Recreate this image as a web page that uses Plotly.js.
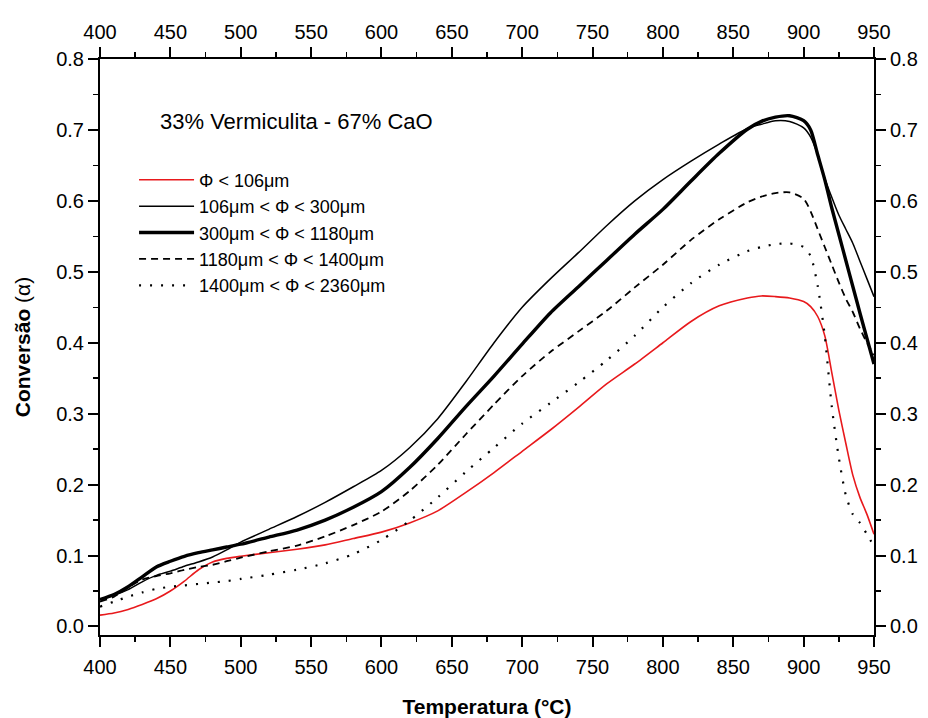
<!DOCTYPE html>
<html>
<head>
<meta charset="utf-8">
<script src="https://cdn.plot.ly/plotly-3.0.1.min.js"></script>
<style>html,body{margin:0;padding:0;background:#fff;}#chart{width:928px;height:718px;}</style>
</head>
<body>
<div id="chart"></div>
<script>
const temperature = [400,410,420,430,440,450,460,470,480,490,500,520,540,560,580,600,620,640,660,680,700,720,740,760,780,800,820,840,860,870,880,890,900,905,910,915,920,925,930,935,940,945,950];

const phiLt106 = [0.016,0.019,0.024,0.031,0.039,0.050,0.064,0.080,0.091,0.096,0.099,0.104,0.109,0.115,0.124,0.133,0.146,0.163,0.189,0.217,0.247,0.277,0.309,0.342,0.370,0.400,0.430,0.452,0.463,0.466,0.465,0.463,0.458,0.451,0.437,0.410,0.358,0.305,0.258,0.213,0.182,0.158,0.130];

const phi106to300 = [0.038,0.044,0.052,0.063,0.072,0.078,0.085,0.091,0.098,0.108,0.119,0.137,0.155,0.175,0.197,0.220,0.252,0.293,0.345,0.400,0.450,0.490,0.527,0.565,0.600,0.630,0.656,0.680,0.702,0.708,0.713,0.712,0.703,0.690,0.665,0.632,0.605,0.580,0.560,0.540,0.515,0.490,0.465];

const phi300to1180 = [0.038,0.045,0.056,0.070,0.084,0.092,0.099,0.104,0.108,0.112,0.116,0.126,0.136,0.150,0.168,0.190,0.224,0.265,0.310,0.353,0.398,0.442,0.479,0.516,0.553,0.588,0.628,0.667,0.701,0.712,0.718,0.720,0.713,0.700,0.665,0.630,0.590,0.553,0.516,0.479,0.442,0.406,0.370];

const phi1180to1400 = [0.035,0.042,0.055,0.066,0.071,0.075,0.080,0.084,0.087,0.092,0.097,0.106,0.114,0.127,0.143,0.162,0.191,0.228,0.271,0.313,0.353,0.387,0.416,0.445,0.478,0.510,0.545,0.574,0.598,0.606,0.611,0.612,0.603,0.585,0.560,0.535,0.510,0.485,0.462,0.443,0.420,0.400,0.383];

const phi1400to2360 = [0.028,0.035,0.042,0.048,0.053,0.056,0.058,0.060,0.062,0.064,0.067,0.073,0.080,0.089,0.102,0.122,0.149,0.182,0.218,0.252,0.286,0.315,0.344,0.375,0.410,0.450,0.484,0.510,0.529,0.535,0.539,0.540,0.535,0.522,0.480,0.410,0.310,0.238,0.185,0.158,0.146,0.130,0.113];

const seriesNames = ['Φ < 106μm','106μm < Φ < 300μm','300μm < Φ < 1180μm','1180μm < Φ < 1400μm','1400μm < Φ < 2360μm'];
const xTicks = [400,450,500,550,600,650,700,750,800,850,900,950];
const yTicks = [0.0,0.1,0.2,0.3,0.4,0.5,0.6,0.7,0.8];

const styles = [
  {color:'#e8191c', width:1.6, dash:'solid'},
  {color:'#000000', width:1.5, dash:'solid'},
  {color:'#000000', width:3.4, dash:'solid'},
  {color:'#000000', width:1.8, dash:'7px,5px'},
  {color:'#000000', width:2.2, dash:'2px,9px'}
];
const ys = [phiLt106, phi106to300, phi300to1180, phi1180to1400, phi1400to2360];

const traces = ys.map((y,i)=>({
  x: temperature, y: y, type:'scatter', mode:'lines', name: seriesNames[i],
  line: {color: styles[i].color, width: styles[i].width, dash: styles[i].dash, shape:'spline', smoothing:0.7}
}));
traces.push({x:[400,950], y:[0,0.8], xaxis:'x2', yaxis:'y2', mode:'markers', marker:{opacity:0}, showlegend:false, hoverinfo:'skip'});

const FONT = 'Liberation Sans, Arial, sans-serif';
const tickFont = {family:FONT, size:20, color:'#000'};
const xMinor = {ticks:'outside', ticklen:5, tickwidth:1.5, tickcolor:'#000', dtick:25, tick0:400};
const yMinor = {ticks:'outside', ticklen:5, tickwidth:1.5, tickcolor:'#000', dtick:0.05, tick0:0};
const axisCommon = {
  showgrid:false, zeroline:false, showline:true, linecolor:'#000', linewidth:2,
  ticks:'outside', ticklen:10, tickwidth:2, tickcolor:'#000', tickfont: tickFont
};
const yRange = [-0.012, 0.8];

const layout = {
  width:928, height:718,
  margin:{l:100, r:54, t:59, b:83},
  paper_bgcolor:'#fff', plot_bgcolor:'#fff',
  font:{family:FONT, color:'#000'},
  xaxis: Object.assign({}, axisCommon, {
    range:[400,950], tickvals:xTicks, ticktext:xTicks.map(String), minor:xMinor, ticklabelstandoff:3,
    title:{text:'<b>Temperatura (°C)</b>', font:{size:21, family:FONT}, standoff:22}
  }),
  yaxis: Object.assign({}, axisCommon, {
    range:yRange, tickvals:yTicks, ticktext:yTicks.map(v=>v.toFixed(1)), minor:yMinor,
    title:{text:'<b>Conversão</b> (α)', font:{size:21, family:FONT}, standoff:20}
  }),
  xaxis2: Object.assign({}, axisCommon, {
    overlaying:'x', side:'top', range:[400,950], tickvals:xTicks, ticktext:xTicks.map(String), minor:xMinor, ticklabelstandoff:0
  }),
  yaxis2: Object.assign({}, axisCommon, {
    overlaying:'y', side:'right', range:yRange, tickvals:yTicks, ticktext:yTicks.map(v=>v.toFixed(1)), minor:yMinor
  }),
  showlegend:true,
  legend:{x:0.044, y:0.822, xanchor:'left', yanchor:'top', bgcolor:'rgba(0,0,0,0)', borderwidth:0,
    font:{size:18, family:FONT}, itemwidth:55, tracegroupgap:0},
  annotations:[{
    xref:'paper', yref:'paper', x:0.075, y:0.892, xanchor:'left', yanchor:'middle', showarrow:false,
    text:'33% Vermiculita - 67% CaO', font:{size:22, family:FONT}
  }]
};

Plotly.newPlot('chart', traces, layout, {displayModeBar:false, staticPlot:true});
</script>
</body>
</html>
